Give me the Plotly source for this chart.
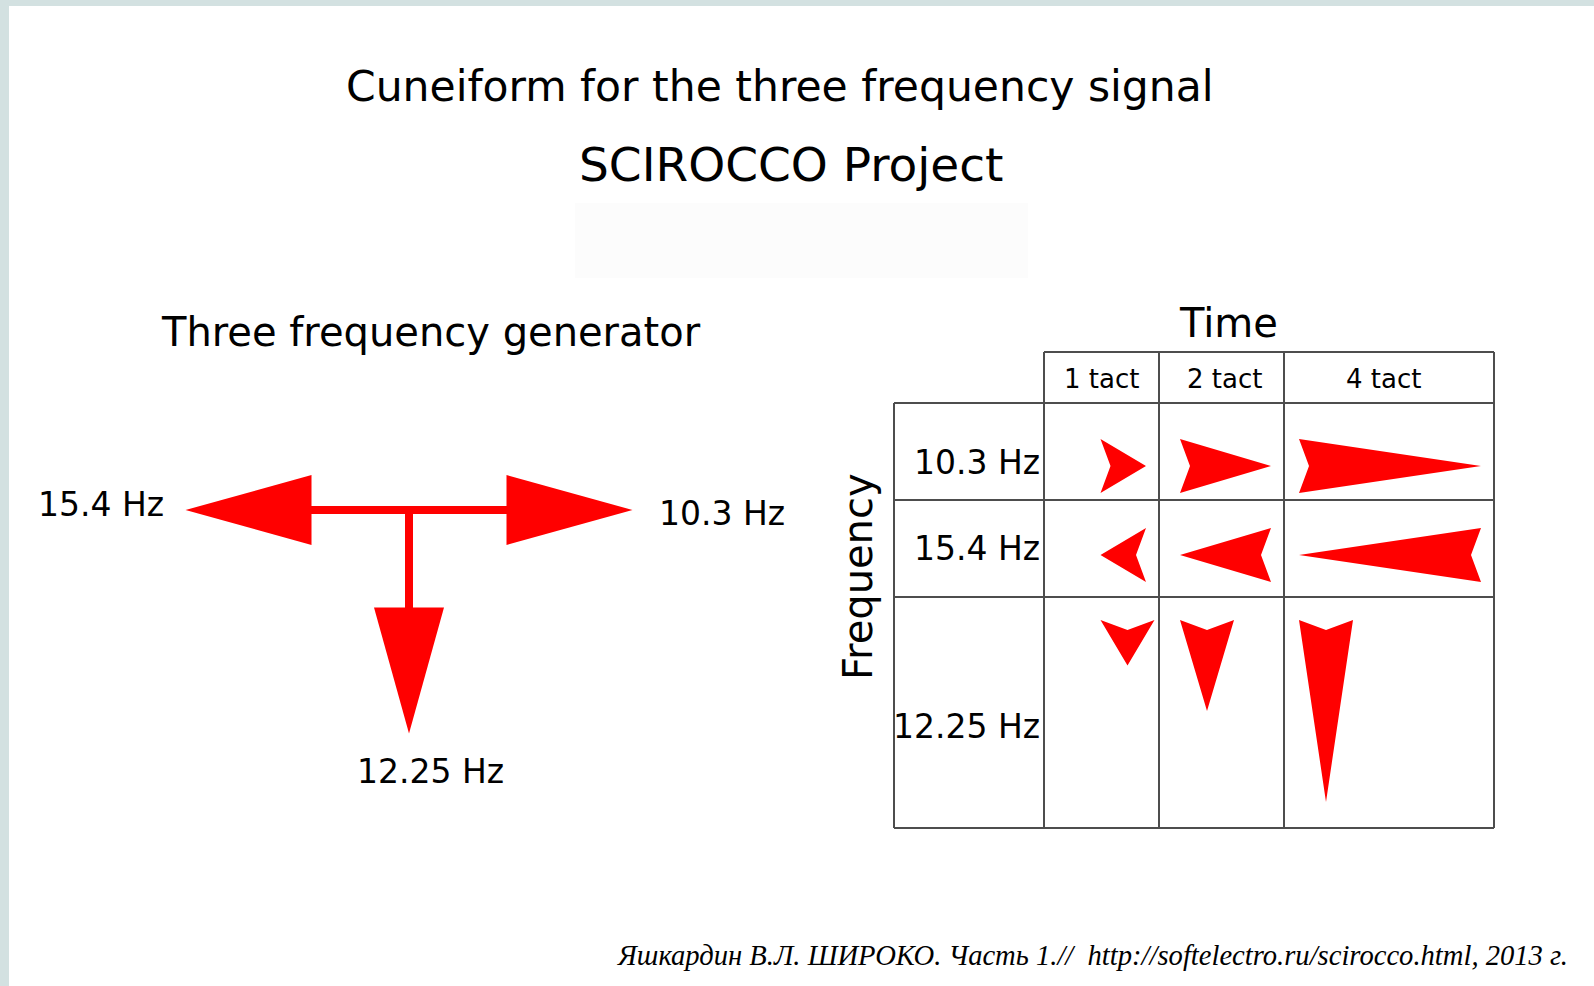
import plotly.graph_objects as go

W, H = 1594, 986

# ---------------- data ----------------
title_lines = ["Cuneiform for the three frequency signal", "SCIROCCO Project"]
generator_title = "Three frequency generator"
generator_freqs = ["15.4 Hz", "10.3 Hz", "12.25 Hz"]
generator_dirs = ["left", "right", "down"]
table_freqs = ["10.3 Hz", "15.4 Hz", "12.25 Hz"]
table_dirs = ["right", "left", "down"]
tacts = [1, 2, 4]
tact_labels = ["1 tact", "2 tact", "4 tact"]
time_title = "Time"
freq_title = "Frequency"
citation = "Яшкардин В.Л. ШИРОКО. Часть 1.//\u00a0 http://softelectro.ru/scirocco.html, 2013 г."

# ---------------- layout geometry (pixels) ----------------
RED = "#FF0000"
GRID = "#4d4d4d"
FONT = "DejaVu Sans"
col_edges = [894, 1044, 1159, 1284, 1494]
row_edges = [352, 403, 500, 597, 828]
header_x = [1101, 1224, 1383]
unit_len = 45.5
half_w = 27
notch = 10
tip_gap = 13
row_arrow_y = [466, 555, 620]

gen_cx, gen_cy = 409, 510
gen_bar = 97.5
gen_head_len = 126
gen_head_hw = 35

fig = go.Figure()


def add_poly(xs, ys):
    fig.add_trace(go.Scatter(x=xs + [xs[0]], y=ys + [ys[0]], mode="lines", fill="toself",
                             fillcolor=RED, line=dict(width=0, color=RED),
                             hoverinfo="skip", showlegend=False))


def arrow(direction, x0, y0, length, hw, nd):
    # x0,y0: for right/left -> start x and centre y; for down -> centre x and top y
    if direction == "right":
        return [x0, x0 + length, x0, x0 + nd], [y0 - hw, y0, y0 + hw, y0]
    if direction == "left":
        return [x0 + length, x0, x0 + length, x0 + length - nd], [y0 - hw, y0, y0 + hw, y0]
    return [x0 - hw, x0, x0 + hw, x0], [y0, y0 + length, y0, y0 + nd]


# ---------------- generator diagram ----------------
fig.add_trace(go.Scatter(x=[gen_cx - gen_bar - 1, gen_cx + gen_bar + 1], y=[gen_cy, gen_cy], mode="lines",
                         line=dict(color=RED, width=8), hoverinfo="skip", showlegend=False))
fig.add_trace(go.Scatter(x=[gen_cx, gen_cx], y=[gen_cy, gen_cy + gen_bar + 1], mode="lines",
                         line=dict(color=RED, width=8), hoverinfo="skip", showlegend=False))
for d in generator_dirs:
    if d == "left":
        xs, ys = arrow("left", gen_cx - gen_bar - gen_head_len, gen_cy, gen_head_len, gen_head_hw, 0)
    elif d == "right":
        xs, ys = arrow("right", gen_cx + gen_bar, gen_cy, gen_head_len, gen_head_hw, 0)
    else:
        xs, ys = arrow("down", gen_cx, gen_cy + gen_bar, gen_head_len, gen_head_hw, 0)
    add_poly(xs, ys)

annotations = []


def txt(x, y, s, size, xanchor="center", yanchor="middle", family=FONT, angle=0):
    annotations.append(dict(x=x, y=y, xref="x", yref="y", text=s, showarrow=False,
                            xanchor=xanchor, yanchor=yanchor, textangle=angle,
                            font=dict(family=family, size=size, color="#000000")))


gen_label_pos = {"left": (gen_cx - gen_bar - gen_head_len - 20, gen_cy - 6, "right"),
                 "right": (gen_cx + gen_bar + gen_head_len + 24, gen_cy + 3, "left"),
                 "down": (gen_cx + 21, gen_cy + gen_bar + gen_head_len + 38, "center")}
for f, d in zip(generator_freqs, generator_dirs):
    x, y, xa = gen_label_pos[d]
    txt(x, y, f, 33, xanchor=xa)

# ---------------- table ----------------
shapes = []
line_style = dict(color=GRID, width=2)
# header row (only over tact columns)
shapes.append(dict(type="line", xref="x", yref="y", x0=col_edges[1], x1=col_edges[-1],
                   y0=row_edges[0], y1=row_edges[0], line=line_style))
for y in row_edges[1:]:
    shapes.append(dict(type="line", xref="x", yref="y", x0=col_edges[0], x1=col_edges[-1],
                       y0=y, y1=y, line=line_style))
shapes.append(dict(type="line", xref="x", yref="y", x0=col_edges[0], x1=col_edges[0],
                   y0=row_edges[1], y1=row_edges[-1], line=line_style))
for x in col_edges[1:]:
    shapes.append(dict(type="line", xref="x", yref="y", x0=x, x1=x,
                       y0=row_edges[0], y1=row_edges[-1], line=line_style))

for j, (t, lab) in enumerate(zip(tacts, tact_labels)):
    txt(header_x[j], (row_edges[0] + row_edges[1]) / 2 + 1, lab, 26)

for i, (f, d) in enumerate(zip(table_freqs, table_dirs)):
    label_y = [462, 548, 726][i]
    txt(col_edges[1] - 2, label_y, f, 33, xanchor="right")
    for j, t in enumerate(tacts):
        L = unit_len * t
        start = col_edges[j + 2] - tip_gap - L
        if d == "down":
            xs, ys = arrow("down", start + half_w, row_arrow_y[i], L, half_w, notch)
        else:
            xs, ys = arrow(d, start, row_arrow_y[i], L, half_w, notch)
        add_poly(xs, ys)

txt(1228, 323, time_title, 40)
txt(858, 577, freq_title, 40, angle=-90)

# ---------------- titles ----------------
txt(780, 86, title_lines[0], 42.5)
txt(791, 164, title_lines[1], 47)
txt(431, 332, generator_title, 40)
txt(1570, 955, citation, 28.6, xanchor="right", family="Liberation Serif")
annotations[-1]["font"]["style"] = "italic"

# ---------------- page frame ----------------
shapes.insert(0, dict(type="rect", xref="x", yref="y", x0=575, x1=1028, y0=203, y1=278,
                      fillcolor="#FCFCFC", line=dict(width=0), layer="below"))
shapes.append(dict(type="rect", xref="x", yref="y", x0=0, x1=9, y0=0, y1=H,
                   fillcolor="#D3E1E1", line=dict(width=0)))
shapes.append(dict(type="rect", xref="x", yref="y", x0=0, x1=W, y0=0, y1=6,
                   fillcolor="#D3E1E1", line=dict(width=0)))

fig.update_layout(
    width=W, height=H, margin=dict(l=0, r=0, t=0, b=0, pad=0),
    paper_bgcolor="white", plot_bgcolor="white",
    xaxis=dict(range=[0, W], visible=False, fixedrange=True),
    yaxis=dict(range=[H, 0], visible=False, fixedrange=True),
    shapes=shapes, annotations=annotations, showlegend=False,
)

fig.write_html("out.html", config={"displayModeBar": False},
               post_script="document.body.style.margin='0';document.body.style.overflow='hidden';")
